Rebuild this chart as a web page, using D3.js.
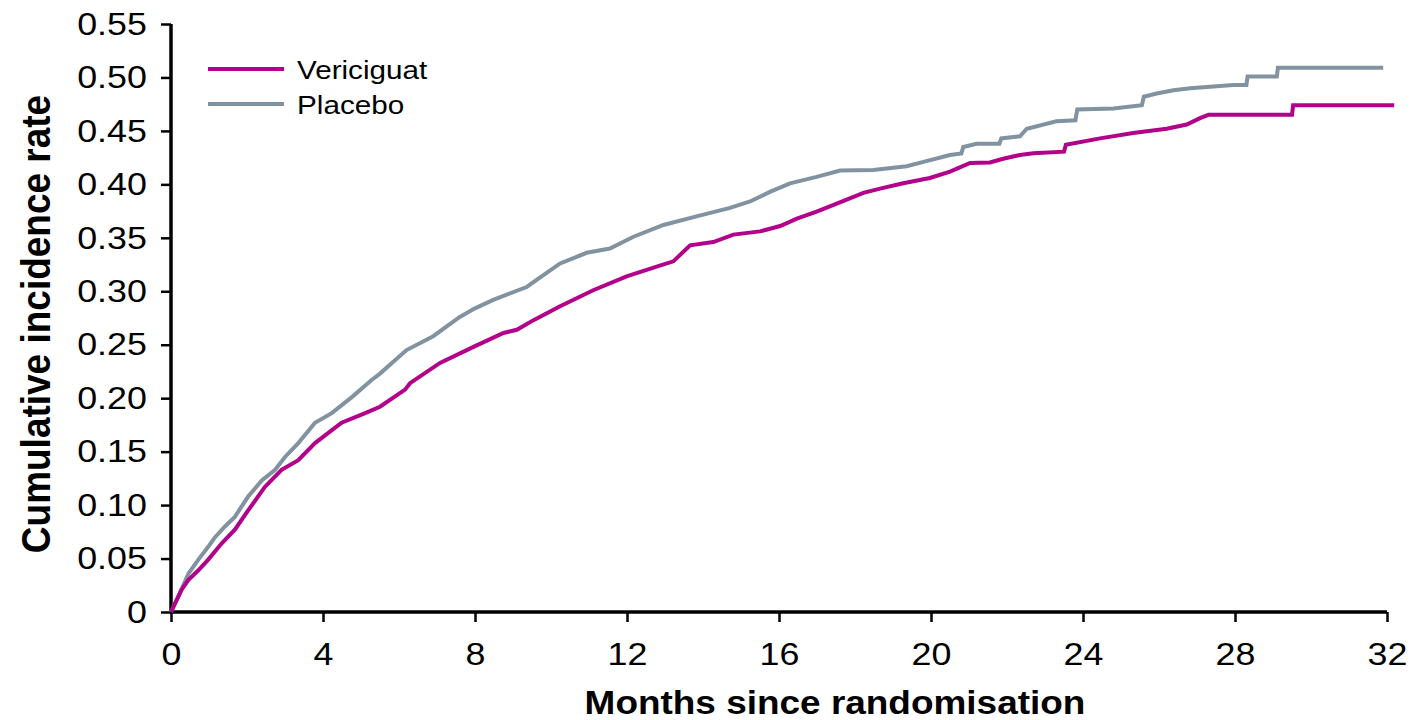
<!DOCTYPE html>
<html>
<head>
<meta charset="utf-8">
<script src="https://cdn.jsdelivr.net/npm/d3@7"></script>
<style>
  body { margin: 0; background: #fff; }
  text { font-family: "Liberation Sans", Arial, sans-serif; }
</style>
</head>
<body>
<div id="chart"></div>
<script>
// months since randomisation / cumulative incidence
var placeboMonths = [0, 0.2, 0.46, 0.72, 1.0, 1.16, 1.42, 1.68, 2.03, 2.39, 2.74, 3.0, 3.35, 3.79, 4.23, 4.76, 5.28, 5.5, 5.85, 6.2, 6.9, 7.6, 8.0, 8.48, 9.36, 9.8, 10.24, 10.94, 11.55, 12.17, 12.96, 13.83, 14.71, 15.24, 15.76, 16.29, 16.99, 17.61, 18.48, 19.36, 19.8, 20.5, 20.8, 20.85, 21.2, 21.8, 21.85, 22.34, 22.52, 23.3, 23.8, 23.85, 24.8, 25.55, 25.6, 25.94, 26.38, 26.82, 27.96, 28.3, 28.33, 29.1, 29.13, 31.9];
var placeboRate = [0, 0.015, 0.036, 0.049, 0.062, 0.070, 0.080, 0.089, 0.108, 0.123, 0.133, 0.145, 0.158, 0.177, 0.186, 0.201, 0.217, 0.223, 0.234, 0.245, 0.258, 0.276, 0.284, 0.292, 0.304, 0.315, 0.326, 0.336, 0.340, 0.351, 0.362, 0.370, 0.378, 0.384, 0.393, 0.401, 0.407, 0.413, 0.4135, 0.417, 0.421, 0.4275, 0.429, 0.435, 0.438, 0.438, 0.443, 0.445, 0.452, 0.459, 0.460, 0.470, 0.471, 0.474, 0.482, 0.485, 0.488, 0.490, 0.493, 0.493, 0.501, 0.501, 0.509, 0.509];

var vericiguatMonths = [0, 0.28, 0.46, 0.72, 0.98, 1.33, 1.68, 2.03, 2.47, 2.91, 3.35, 3.79, 4.49, 5.11, 5.5, 6.16, 6.29, 7.08, 7.96, 8.75, 9.1, 9.54, 10.24, 11.11, 11.99, 12.78, 13.22, 13.66, 14.27, 14.8, 15.5, 16.03, 16.47, 16.99, 17.52, 18.22, 18.66, 19.27, 19.97, 20.5, 21.03, 21.55, 21.9, 22.34, 22.69, 23.5, 23.55, 24.45, 25.32, 26.2, 26.73, 27.08, 27.3, 29.5, 29.53, 32.19];
var vericiguatRate = [0, 0.021, 0.030, 0.039, 0.049, 0.064, 0.077, 0.095, 0.117, 0.133, 0.142, 0.158, 0.177, 0.186, 0.192, 0.208, 0.214, 0.233, 0.248, 0.261, 0.264, 0.273, 0.286, 0.301, 0.314, 0.323, 0.328, 0.343, 0.346, 0.353, 0.356, 0.361, 0.368, 0.3745, 0.382, 0.392, 0.396, 0.401, 0.406, 0.412, 0.420, 0.4205, 0.424, 0.4275, 0.429, 0.4306, 0.437, 0.443, 0.448, 0.452, 0.456, 0.462, 0.465, 0.465, 0.474, 0.474];

var xTicks = [0, 4, 8, 12, 16, 20, 24, 28, 32];
var yTicks = [0, 0.05, 0.10, 0.15, 0.20, 0.25, 0.30, 0.35, 0.40, 0.45, 0.50, 0.55];
var seriesNames = ["Vericiguat", "Placebo"];
var seriesColors = ["#B3008B", "#8192A1"];

var width = 1410, height = 720;
var margin = {left: 171, right: 23, top: 24, bottom: 108};
var stretch = "scale(1.12,1)"; // the source text is a bit wider than plain Arial

var svg = d3.select("#chart").append("svg")
    .attr("width", width)
    .attr("height", height);

var x = d3.scaleLinear()
    .domain([0, 32])
    .range([margin.left, width - margin.right]);
var y = d3.scaleLinear()
    .domain([0, 0.55])
    .range([height - margin.bottom, margin.top]);

var line = d3.line()
    .x(function(d) { return x(d[0]); })
    .y(function(d) { return y(d[1]); });

var placeboData = d3.zip(placeboMonths, placeboRate);
var vericiguatData = d3.zip(vericiguatMonths, vericiguatRate);

//Axes
var xAxis = svg.append("g")
    .attr("transform", "translate(0," + y(0) + ")")
    .call(d3.axisBottom(x).tickValues(xTicks).tickSize(10).tickPadding(20).tickFormat(d3.format("d")));
var yAxis = svg.append("g")
    .attr("transform", "translate(" + x(0) + ",0)")
    .call(d3.axisLeft(y).tickValues(yTicks).tickSize(10).tickPadding(11.5)
        .tickFormat(function(d) { return d === 0 ? "0" : d3.format(".2f")(d); }));

[xAxis, yAxis].forEach(function(a) {
    a.select(".domain").attr("stroke", "#000").attr("stroke-width", 3.5);
    a.selectAll(".tick line").attr("stroke", "#000").attr("stroke-width", 2.5);
    a.selectAll(".tick text")
        .attr("fill", "#000")
        .attr("transform", stretch)
        .style("font-size", "32px")
        .style("font-family", "'Liberation Sans', Arial, sans-serif");
});
xAxis.select(".domain").attr("d", "M" + x(0) + ",0H" + x(32));
yAxis.select(".domain").attr("d", "M0," + y(0) + "V" + y(0.55));

//Curves
svg.append("path")
    .attr("fill", "none")
    .attr("stroke", seriesColors[1])
    .attr("stroke-width", 4)
    .attr("d", line(placeboData));
svg.append("path")
    .attr("fill", "none")
    .attr("stroke", seriesColors[0])
    .attr("stroke-width", 4)
    .attr("d", line(vericiguatData));

//Legend
seriesNames.forEach(function(name, i) {
    var ly = 69 + i * 35;
    svg.append("line")
        .attr("x1", 208).attr("x2", 284)
        .attr("y1", ly).attr("y2", ly)
        .attr("stroke", seriesColors[i])
        .attr("stroke-width", 4);
    svg.append("g")
        .attr("transform", "translate(297," + (ly + 10) + ")")
        .append("text")
        .attr("transform", stretch)
        .style("font-size", "26.5px")
        .attr("fill", "#000")
        .text(name);
});

//Axis titles
svg.append("g")
    .attr("transform", "translate(835,714)")
    .append("text")
    .attr("transform", stretch)
    .attr("text-anchor", "middle")
    .style("font-size", "33px")
    .style("font-weight", "bold")
    .text("Months since randomisation");

svg.append("text")
    .attr("transform", "translate(50,324) scale(1.12,1) rotate(-90)")
    .attr("text-anchor", "middle")
    .style("font-size", "37px")
    .style("font-weight", "bold")
    .text("Cumulative incidence rate");
</script>
</body>
</html>
